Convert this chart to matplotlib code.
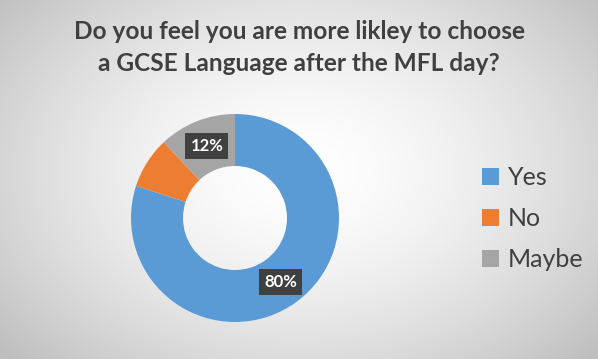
import numpy as np
import matplotlib
matplotlib.use("Agg")
import matplotlib.pyplot as plt

# ---- data ----
labels = ["Yes", "No", "Maybe"]
shares = [80, 8, 12]
colours = ["#5B9BD5", "#ED7D31", "#A5A5A5"]
shown = ["80%", "", "12%"]   # only these labels appear on the chart

title = "Do you feel you are more likley to choose\na GCSE Language after the MFL day?"

fig = plt.figure(figsize=(5.98, 3.59), dpi=100)

# radial grey-to-white background
bg = fig.add_axes([0, 0, 1, 1])
yy, xx = np.mgrid[0:359, 0:598]
d = np.sqrt(((xx - 300) / 330.0) ** 2 + ((yy - 170) / 230.0) ** 2)
shade = 1.0 - 0.19 * np.clip(d, 0, 1.2) ** 1.6
bg.imshow(np.dstack([shade] * 3), aspect="auto", extent=[0, 1, 0, 1])
bg.axis("off")

fig.text(0.5, 0.945, title, ha="center", va="top", fontsize=17.6,
         fontweight="bold", color="#404040", family="Lato", linespacing=1.5)

# donut: centre (235,218) px, outer radius ~104 px
ax = fig.add_axes([(235 - 104) / 598, (359 - 218 - 104) / 359, 208 / 598, 208 / 359])
wedges, _ = ax.pie(shares, colors=colours, startangle=90, counterclock=False,
                   wedgeprops=dict(width=0.5, linewidth=0))
ax.set_aspect("equal")
ax.set_xlim(-1, 1)
ax.set_ylim(-1, 1)

# data labels in dark boxes
pos = {0: (0.44, -0.62), 2: (-0.27, 0.69)}
for i, (x, y) in pos.items():
    ax.text(x, y, shown[i], ha="center", va="center", fontsize=12,
            fontweight="bold", color="white", family="Lato",
            bbox=dict(boxstyle="square,pad=0.3", fc="#404040", ec="none"))

leg = fig.legend(wedges, labels, loc="center left", bbox_to_anchor=(0.768, 0.39),
                 frameon=False, handlelength=0.7, handleheight=0.7,
                 handletextpad=0.35, labelspacing=0.72, prop=dict(family="Lato", size=18))
for t in leg.get_texts():
    t.set_color("#404040")

fig.savefig("out.png", dpi=100)
